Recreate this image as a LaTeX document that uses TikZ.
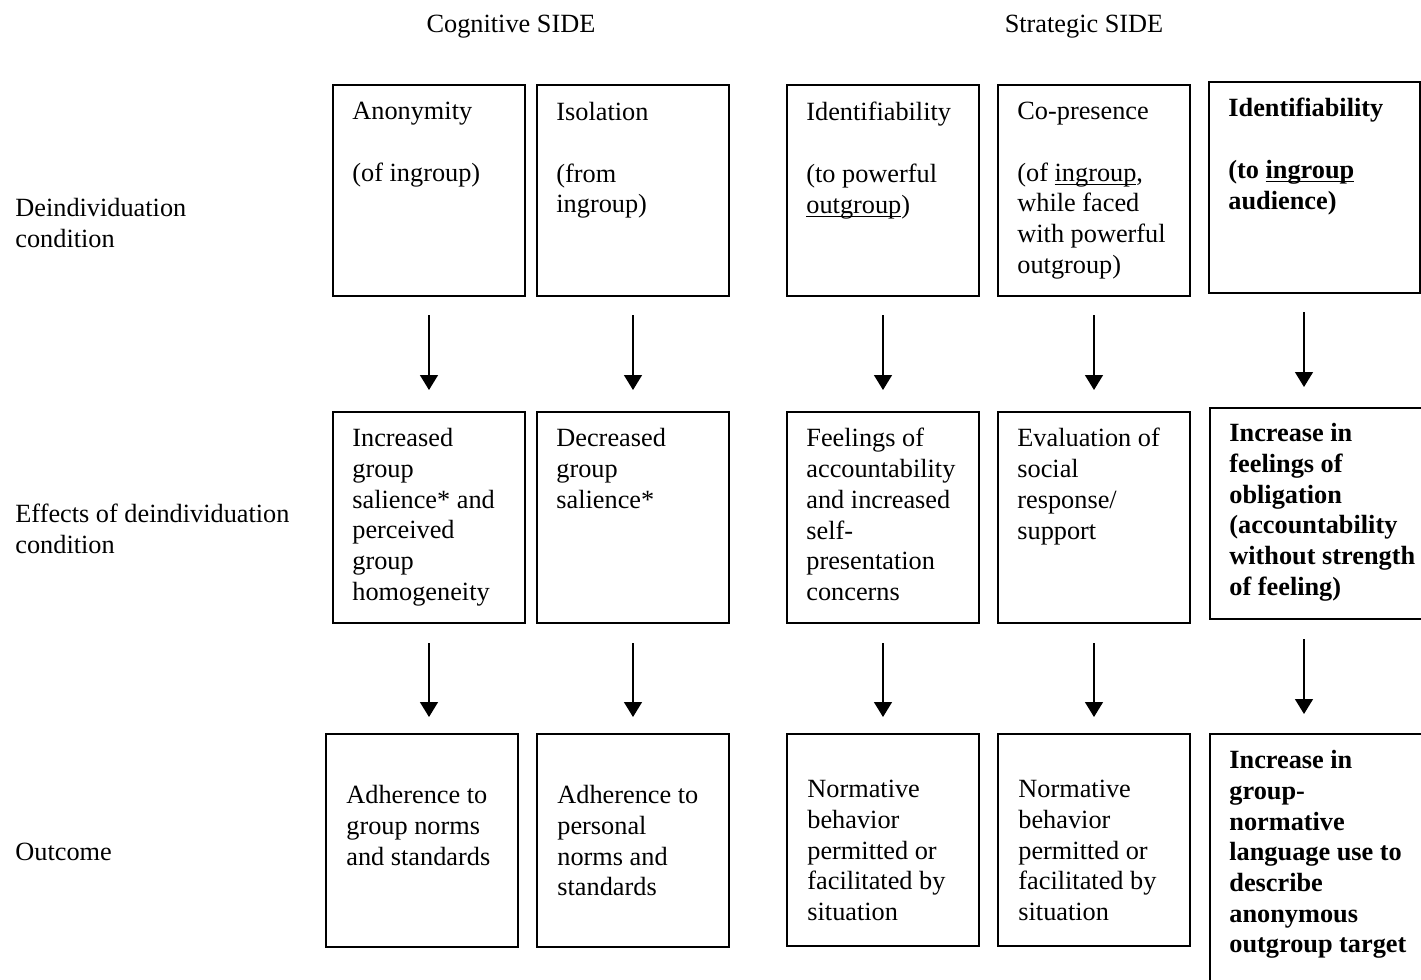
\documentclass[tikz,border=0pt]{standalone}
\usepackage{fontspec}
\setmainfont{Liberation Serif}
\usepackage{tikz}
\usetikzlibrary{arrows.meta, positioning}
\newcommand{\uword}[1]{{\setbox0\hbox{#1}\rlap{\rule[-2pt]{\wd0}{0.6pt}}\box0}}
\tikzset{
  cell/.style={rectangle, draw=black, line width=1pt, anchor=north west,
    minimum width=96pt, minimum height=105.5pt, inner sep=0pt},
  widecell/.style={cell, minimum width=110pt},
  celltext/.style={align=left, inner sep=0pt,
    font=\fontsize{13.15pt}{15.35pt}\selectfont},
  boldtext/.style={align=left, inner sep=0pt,
    font=\fontsize{13.15pt}{15.35pt}\selectfont\bfseries},
  arrow/.style={-{Triangle[width=9pt,length=7.5pt]}, line width=0.7pt, color=black}
}
\begin{document}
\begin{tikzpicture}[x=0.5pt, y=-0.5pt]
  \useasboundingbox (0,0) rectangle (1421,980);

  % headings
  \node[celltext, anchor=base] (cog) at (511,32) {Cognitive SIDE};
  \node[celltext, anchor=base] (str) at (1084,32) {Strategic SIDE};
  \node[celltext, anchor=north west] (lcond) at (15,198) {Deindividuation\\condition};
  \node[celltext, anchor=north west] (leff)  at (15,504) {Effects of deindividuation\\condition};
  \node[celltext, anchor=north west] (lout)  at (15,843) {Outcome};

  % deindividuation condition
  \node[cell] (a1) at (332,84) {};
  \node[cell] (a2) at (536,84) {};
  \node[cell] (a3) at (786,84) {};
  \node[cell] (a4) at (997,84) {};
  \node[cell, minimum width=105.5pt] (a5) at (1208,81) {};
  \node[celltext, below right=9pt and 10pt of a1.north west] (ta1) {Anonymity\\[15.35pt](of ingroup)};
  \node[celltext, below right=9pt and 10pt of a2.north west] (ta2) {Isolation\\[15.35pt](from\\ingroup)};
  \node[celltext, below right=9pt and 10pt of a3.north west] (ta3) {Identifiability\\[15.35pt](to powerful\\\uword{outgroup})};
  \node[celltext, below right=9pt and 10pt of a4.north west] (ta4) {Co-presence\\[15.35pt](of \uword{ingroup},\\while faced\\with powerful\\outgroup)};
  \node[boldtext, below right=8.5pt and 10pt of a5.north west] (ta5) {Identifiability\\[15.35pt](to \uword{ingroup}\\audience)};

  % effects
  \node[cell] (b1) at (332,411) {};
  \node[cell] (b2) at (536,411) {};
  \node[cell] (b3) at (786,411) {};
  \node[cell] (b4) at (997,411) {};
  \node[widecell] (b5) at (1209,407) {};
  \node[celltext, below right=8.5pt and 10pt of b1.north west] (tb1) {Increased\\group\\salience* and\\perceived\\group\\homogeneity};
  \node[celltext, below right=8.5pt and 10pt of b2.north west] (tb2) {Decreased\\group\\salience*};
  \node[celltext, below right=8.5pt and 10pt of b3.north west] (tb3) {Feelings of\\accountability\\and increased\\self-\\presentation\\concerns};
  \node[celltext, below right=8.5pt and 10pt of b4.north west] (tb4) {Evaluation of\\social\\response/\\support};
  \node[boldtext, below right=8pt and 10pt of b5.north west] (tb5) {Increase in\\feelings of\\obligation\\(accountability\\without strength\\of feeling)};

  % outcome
  \node[cell, minimum height=106.5pt] (c1) at (325,733) {};
  \node[cell, minimum height=106.5pt] (c2) at (536,733) {};
  \node[cell, minimum height=106pt] (c3) at (786,733) {};
  \node[cell, minimum height=106pt] (c4) at (997,733) {};
  \node[widecell, minimum height=135pt] (c5) at (1209,733) {};
  \node[celltext, below right=26pt and 10.5pt of c1.north west] (tc1) {Adherence to\\group norms\\and standards};
  \node[celltext, below right=26pt and 10.5pt of c2.north west] (tc2) {Adherence to\\personal\\norms and\\standards};
  \node[celltext, below right=23.5pt and 10.5pt of c3.north west] (tc3) {Normative\\behavior\\permitted or\\facilitated by\\situation};
  \node[celltext, below right=23.5pt and 10.5pt of c4.north west] (tc4) {Normative\\behavior\\permitted or\\facilitated by\\situation};
  \node[boldtext, below right=8.5pt and 10pt of c5.north west] (tc5) {Increase in\\group-\\normative\\language use to\\describe\\anonymous\\outgroup target};

  % arrows
  \draw[arrow] ([yshift=-9pt]a1.south) -- ([yshift=10.5pt]b1.north);
  \draw[arrow] ([yshift=-9pt]a2.south) -- ([yshift=10.5pt]b2.north);
  \draw[arrow] ([yshift=-9pt]a3.south) -- ([yshift=10.5pt]b3.north);
  \draw[arrow] ([yshift=-9pt]a4.south) -- ([yshift=10.5pt]b4.north);
  \draw[arrow] ([xshift=48pt, yshift=-9pt]a5.south west) -- ([xshift=47.5pt, yshift=10pt]b5.north west);
  \draw[arrow] ([yshift=-9.5pt]b1.south) -- ([yshift=8pt]b1.south |- c1.north);
  \draw[arrow] ([yshift=-9.5pt]b2.south) -- ([yshift=8pt]c2.north);
  \draw[arrow] ([yshift=-9.5pt]b3.south) -- ([yshift=8pt]c3.north);
  \draw[arrow] ([yshift=-9.5pt]b4.south) -- ([yshift=8pt]c4.north);
  \draw[arrow] ([xshift=47.5pt, yshift=-9.5pt]b5.south west) -- ([xshift=47.5pt, yshift=9.5pt]c5.north west);
\end{tikzpicture}
\end{document}
